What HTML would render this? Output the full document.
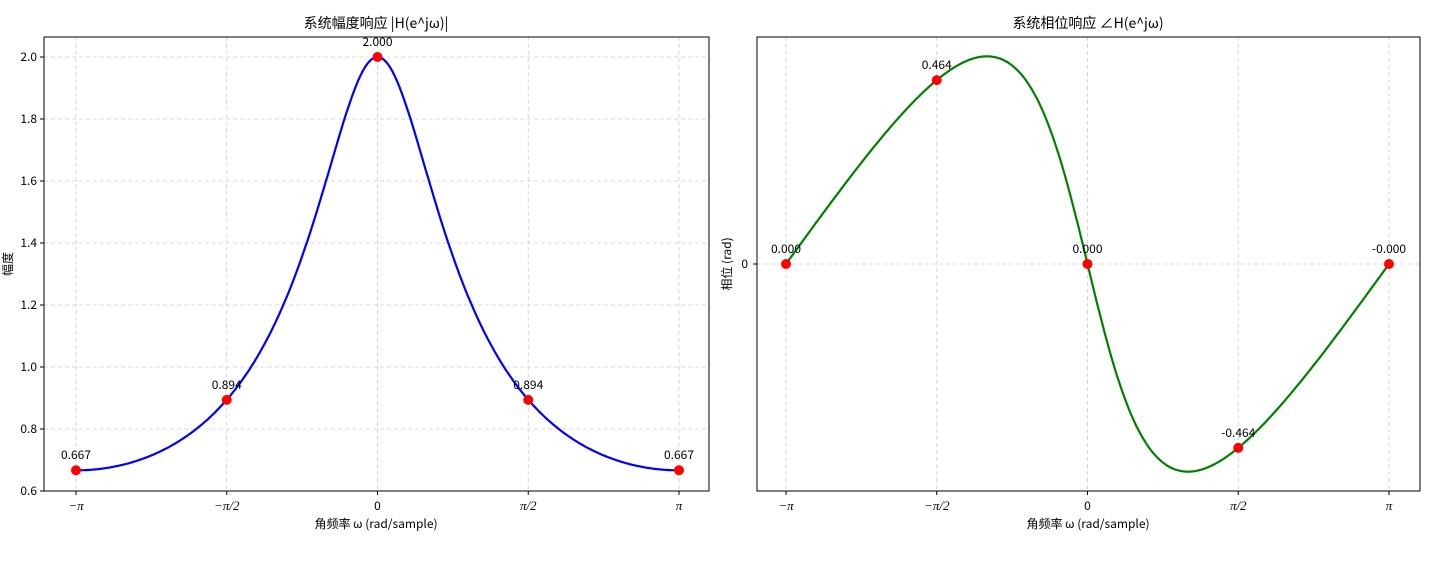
<!DOCTYPE html>
<html><head><meta charset="utf-8">
<style>
body{margin:0;background:#fff;}
svg text{font-family:"WenQuanYi Zen Hei","Noto Sans CJK SC",sans-serif;fill:#000;}
svg text.pi{font-family:"Liberation Serif","DejaVu Serif",serif;}
</style></head>
<body>
<svg id="s" width="1434" height="580" xmlns="http://www.w3.org/2000/svg">
<rect width="1434" height="580" fill="#fff"/>
<g id="g1" stroke="#ccc" stroke-dasharray="4,3" stroke-width="0.8" fill="none"></g>
<path id="mag" fill="none" stroke="#0000ff" stroke-width="2.2"/>
<path id="ph" fill="none" stroke="#008000" stroke-width="2.2"/>
<rect x="44" y="37" width="665" height="454" fill="none" stroke="#000" stroke-width="1"/>
<rect x="757" y="37" width="663" height="454" fill="none" stroke="#000" stroke-width="1"/>
<g id="lab" font-size="12"></g>
<text x="376" y="28" font-size="14" text-anchor="middle">系统幅度响应 |H(e^jω)|</text>
<text x="1088" y="28" font-size="14" text-anchor="middle">系统相位响应 ∠H(e^jω)</text>
<text x="376" y="528" font-size="12" text-anchor="middle">角频率 ω (rad/sample)</text>
<text x="1088" y="528" font-size="12" text-anchor="middle">角频率 ω (rad/sample)</text>
<text transform="translate(12,264) rotate(-90)" font-size="12" text-anchor="middle">幅度</text>
<text transform="translate(731,264) rotate(-90)" font-size="12" text-anchor="middle">相位 (rad)</text>
</svg>
<script>
const NS="http://www.w3.org/2000/svg";
const g=document.getElementById('g1'),lab=document.getElementById('lab'),s=document.getElementById('s');
function el(p,t,a,txt){const e=document.createElementNS(NS,t);for(const k in a)e.setAttribute(k,a[k]);if(txt!=null)e.textContent=txt;p.appendChild(e);return e;}
const X1=w=>377.5+w/Math.PI*301.5, X2=w=>1087.5+w/Math.PI*301.5;
const Y1=v=>491-(v-0.6)*310, Y2=v=>264-v*396.6;
const ticks=[-Math.PI,-Math.PI/2,0,Math.PI/2,Math.PI], tl=["−π","−π/2","0","π/2","π"];
ticks.forEach((w,i)=>{
 [X1,X2].forEach(X=>{
  const x=X(w);el(g,'line',{x1:x,x2:x,y1:37,y2:491});
  el(s,'line',{x1:x,x2:x,y1:491,y2:495,stroke:'#000'});
  const a={x:x,y:510,'text-anchor':'middle'};
  if(i!=2){a['font-style']='italic';a['class']='pi';a['font-size']=13;}
  el(lab,'text',a,tl[i]);
 });
});
for(let v=0.6;v<2.01;v+=0.2){const y=Y1(v);el(g,'line',{x1:44,x2:709,y1:y,y2:y});
 el(s,'line',{x1:40,x2:44,y1:y,y2:y,stroke:'#000'});
 el(lab,'text',{x:37,y:y+4,'text-anchor':'end'},v.toFixed(1));}
el(g,'line',{x1:757,x2:1420,y1:264,y2:264});
el(s,'line',{x1:753,x2:757,y1:264,y2:264,stroke:'#000'});
el(lab,'text',{x:748,y:268,'text-anchor':'end'},"0");
let m="",p="";
for(let i=0;i<=600;i++){const w=-Math.PI+2*Math.PI*i/600;
 const re=1-0.5*Math.cos(w),im=0.5*Math.sin(w);
 const mag=1/Math.hypot(re,im),ph=-Math.atan2(im,re);
 m+=(i?"L":"M")+X1(w).toFixed(1)+","+Y1(mag).toFixed(1);
 p+=(i?"L":"M")+X2(w).toFixed(1)+","+Y2(ph).toFixed(1);}
document.getElementById('mag').setAttribute('d',m);
document.getElementById('ph').setAttribute('d',p);
const mv=[0.667,0.894,2.0,0.894,0.667],pv=[0,0.4636,0,-0.4636,0],pl=["0.000","0.464","0.000","-0.464","-0.000"];
ticks.forEach((w,i)=>{
 el(s,'circle',{cx:X1(w),cy:Y1(mv[i]),r:5,fill:'#ff0000'});
 el(lab,'text',{x:X1(w),y:Y1(mv[i])-11,'text-anchor':'middle'},mv[i].toFixed(3));
 el(s,'circle',{cx:X2(w),cy:Y2(pv[i]),r:5,fill:'#ff0000'});
 el(lab,'text',{x:X2(w),y:Y2(pv[i])-11,'text-anchor':'middle'},pl[i]);
});
</script>
</body></html>
